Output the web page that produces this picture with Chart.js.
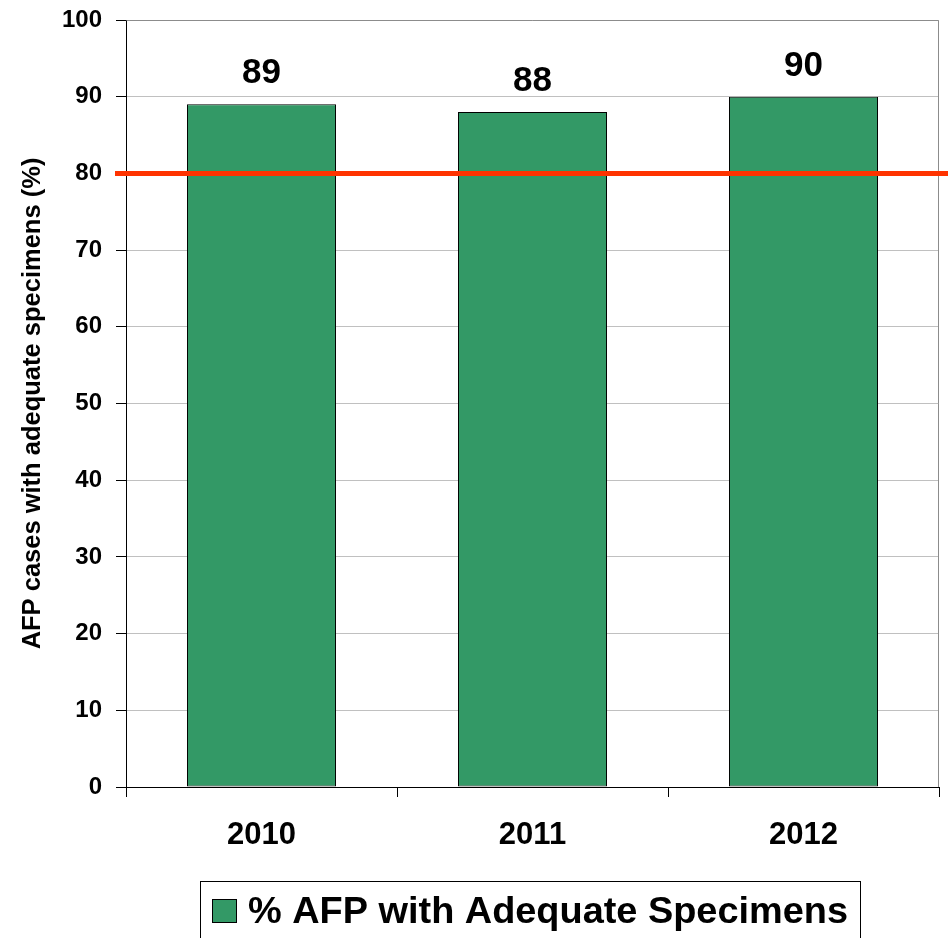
<!DOCTYPE html>
<html>
<head>
<meta charset="utf-8">
<script src="https://cdn.jsdelivr.net/npm/chart.js@4"></script>
<style>
html,body{margin:0;padding:0;background:#fff;}
#wrap{width:948px;height:938px;position:relative;}
</style>
</head>
<body>
<div id="wrap"><canvas id="c" width="948" height="938"></canvas></div>
<script>
const categories = ['2010', '2011', '2012'];
const adequateValues = [89, 88, 90];
const seriesName = '% AFP with Adequate Specimens';
const targetValue = [80];
const yAxisTitle = 'AFP cases with adequate specimens (%)';
const yTickValues = [0, 10, 20, 30, 40, 50, 60, 70, 80, 90, 100];

const FONT = '"Liberation Sans", Arial, sans-serif';
const GREEN = '#339966';

const extras = {
  id: 'extras',
  beforeDatasetsDraw(chart) {
    const {ctx, chartArea: a} = chart;
    ctx.save();
    ctx.strokeStyle = '#8c8c8c';
    ctx.lineWidth = 1;
    ctx.beginPath();
    ctx.moveTo(Math.round(a.left) + 0.5, Math.round(a.top) + 0.5);
    ctx.lineTo(Math.round(a.right) - 0.5, Math.round(a.top) + 0.5);
    ctx.lineTo(Math.round(a.right) - 0.5, Math.round(a.bottom));
    ctx.stroke();
    ctx.restore();
  },
  afterDatasetsDraw(chart) {
    const {ctx, chartArea: a} = chart;
    const y = chart.scales.y;
    ctx.save();
    // value labels
    const meta = chart.getDatasetMeta(0);
    ctx.font = 'bold 35px ' + FONT;
    ctx.fillStyle = '#000';
    ctx.textAlign = 'center';
    ctx.textBaseline = 'alphabetic';
    meta.data.forEach((bar, i) => {
      ctx.fillText(String(adequateValues[i]), bar.x, bar.y - 21);
    });
    // target line
    targetValue.forEach(v => {
      const py = y.getPixelForValue(v);
      ctx.strokeStyle = '#FF3300';
      ctx.lineWidth = 5;
      ctx.beginPath();
      ctx.moveTo(a.left - 11, py);
      ctx.lineTo(chart.width, py);
      ctx.stroke();
    });
    // legend
    ctx.strokeStyle = '#000';
    ctx.lineWidth = 1;
    ctx.strokeRect(200.5, 881.5, 660, 100);
    ctx.fillStyle = GREEN;
    ctx.fillRect(212.5, 899.5, 24, 23);
    ctx.strokeRect(212.5, 899.5, 24, 23);
    ctx.fillStyle = '#000';
    ctx.font = 'bold 36px ' + FONT;
    ctx.textAlign = 'left';
    ctx.textBaseline = 'alphabetic';
    const tw = ctx.measureText(seriesName).width;
    const target = 600;
    ctx.translate(248, 923);
    ctx.scale(target / tw, 1);
    ctx.fillText(seriesName, 0, 0);
    ctx.restore();
  }
};

new Chart(document.getElementById('c'), {
  type: 'bar',
  data: {
    labels: categories,
    datasets: [{
      label: seriesName,
      data: adequateValues,
      backgroundColor: GREEN,
      borderColor: '#000',
      borderWidth: 1,
      borderSkipped: false,
      barPercentage: 0.55,
      categoryPercentage: 1.0
    }]
  },
  options: {
    responsive: false,
    animation: false,
    devicePixelRatio: 1,
    layout: {padding: {left: 0, top: 16, right: 9, bottom: 0}},
    plugins: {legend: {display: false}, tooltip: {enabled: false}},
    scales: {
      x: {
        grid: {display: true, drawOnChartArea: false, offset: true, color: '#000', tickColor: '#000', tickLength: 10},
        border: {display: true, color: '#000', width: 1},
        ticks: {color: '#000', font: {family: FONT, size: 31, weight: 'bold'}, padding: 20},
        afterFit(s) { s.height = 938 - 787; }
      },
      y: {
        min: 0, max: 100,
        afterBuildTicks(s) { s.ticks = yTickValues.map(v => ({value: v})); },
        grid: {color: '#c0c0c0', tickColor: '#000', tickLength: 10, lineWidth: 1},
        border: {display: true, color: '#000', width: 1},
        ticks: {color: '#000', font: {family: FONT, size: 24, weight: 'bold', lineHeight: 0.5}, padding: 14},
        title: {display: true, text: yAxisTitle, color: '#000', font: {family: FONT, size: 25.5, weight: 'bold'}, padding: {top: 18, bottom: 0}},
        afterFit(s) { s.width = 126; }
      }
    }
  },
  plugins: [extras]
});
</script>
</body>
</html>
